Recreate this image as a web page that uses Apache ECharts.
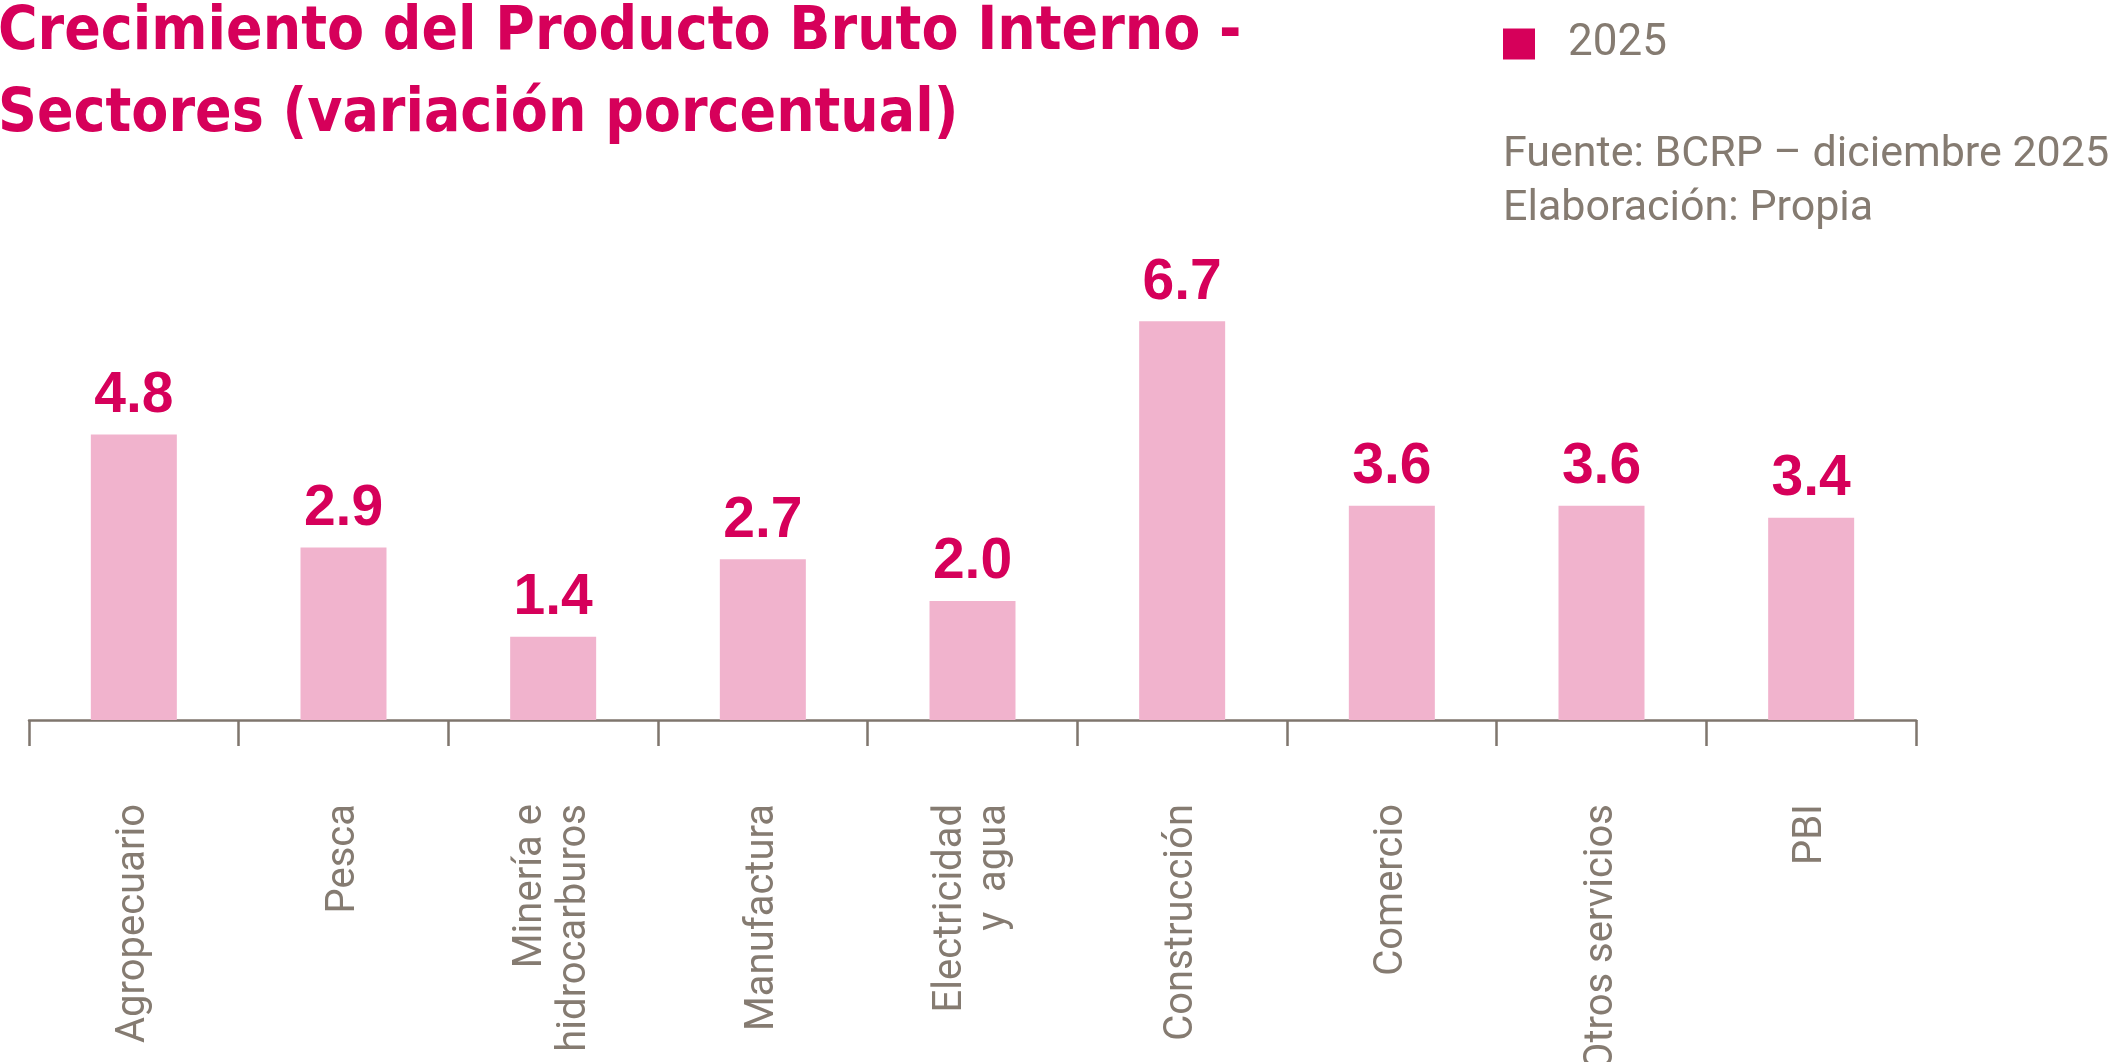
<!DOCTYPE html>
<html>
<head>
    <meta charset="utf-8" />
    <title>PBI por sectores</title>
    <script src="https://cdn.jsdelivr.net/npm/echarts@6/dist/echarts.min.js"></script>
    <style>
        html, body {
            width: 100%;
            height: 100%;
            margin: 0px;
            padding: 0px;
            background: #fff;
        }
        #main {
            width: 100%;
            height: 100%;
        }
    </style>
</head>
<body>
    <div id="main"></div>
</body>
<script type="text/javascript">
    // sectores y variación % 2025
    var sectores = ['Agropecuario', 'Pesca', 'Minería e\nhidrocarburos', 'Manufactura',
        'Electricidad\ny  agua', 'Construcción', 'Comercio', 'Otros servicios', 'PBI'];
    var valores2025 = [4.8, 2.9, 1.4, 2.7, 2.0, 6.7, 3.6, 3.6, 3.4];
    var serieNombre = '2025';

    var rosa = '#d6005a';
    var rosaClaro = '#f1b3cd';
    var gris = '#857b71';
    var ejeColor = '#7f766d';
    var condensada = '"DejaVu Sans Condensed", "DejaVu Sans", sans-serif';
    var textoGris = 'Roboto, "Noto Sans", sans-serif';

    var myChart = echarts.init(document.getElementById('main'));

    myChart.setOption({
        animation: false,
        title: [{
            text: 'Crecimiento del Producto Bruto Interno -\nSectores (variación porcentual)',
            left: -2,
            top: -8,
            padding: 0,
            textStyle: {
                color: rosa,
                fontFamily: condensada,
                fontWeight: 'bold',
                fontSize: 60,
                lineHeight: 82
            }
        }, {
            text: 'Fuente: BCRP – diciembre 2025\nElaboración: Propia',
            left: 1503,
            top: 128,
            padding: 0,
            textStyle: {
                color: gris,
                fontFamily: textoGris,
                fontWeight: 'normal',
                fontSize: 43,
                lineHeight: 54
            }
        }],
        legend: {
            data: [serieNombre],
            left: 1503,
            top: 22,
            padding: 0,
            icon: 'rect',
            itemWidth: 32,
            itemHeight: 31,
            itemStyle: { color: rosa },
            textStyle: {
                color: gris,
                fontFamily: textoGris,
                fontSize: 44,
                lineHeight: 44,
                padding: [0, 0, 0, 28]
            }
        },
        grid: {
            left: 29,
            right: 199,
            top: 244,
            bottom: 342,
            outerBoundsMode: 'none'
        },
        xAxis: {
            type: 'category',
            data: sectores,
            axisLine: { show: true, lineStyle: { color: ejeColor, width: 2.5 } },
            axisTick: { show: true, length: 26, lineStyle: { color: ejeColor, width: 2.5 } },
            axisLabel: {
                rotate: 90,
                margin: 84,
                color: gris,
                fontFamily: textoGris,
                fontSize: 40,
                lineHeight: 44,
                interval: 0
            }
        },
        yAxis: {
            type: 'value',
            min: 0,
            max: 8,
            show: false,
            splitLine: { show: false }
        },
        series: [{
            name: serieNombre,
            type: 'bar',
            data: valores2025,
            barWidth: 86,
            itemStyle: { color: rosaClaro },
            label: {
                show: true,
                position: 'top',
                distance: 10,
                color: rosa,
                fontFamily: '"Liberation Sans", Arial, sans-serif',
                fontWeight: 'bold',
                fontSize: 57,
                formatter: function (p) {
                    return p.value.toFixed(1);
                }
            }
        }]
    });

    window.addEventListener('resize', function () {
        myChart.resize();
    });
</script>
</html>
